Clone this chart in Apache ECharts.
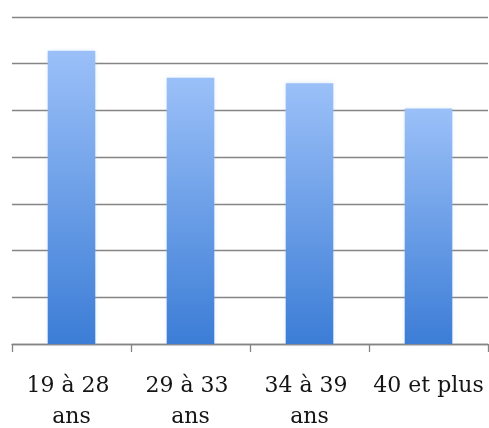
<!DOCTYPE html>
<html>
<head>
<meta charset="utf-8">
<script src="https://cdn.jsdelivr.net/npm/echarts@6/dist/echarts.min.js"></script>
<style>
  html, body { margin: 0; padding: 0; background: #ffffff; }
  #chart { width: 489px; height: 428px; }
</style>
</head>
<body>
<div id="chart"></div>
<script>
// Age groups and their values
const categories = ['19 à 28 ans', '29 à 33 ans', '34 à 39 ans', '40 et plus'];
const values = [31.4, 28.5, 27.9, 25.2];

// Value axis range (labels hidden, only gridlines drawn)
const yMin = 0;
const yMax = 35;
const yStep = 5;

const chart = echarts.init(document.getElementById('chart'), null, { renderer: 'canvas' });

chart.setOption({
  animation: false,
  backgroundColor: '#ffffff',
  grid: { left: 12, right: 1, top: 17, bottom: 84, containLabel: false, outerBoundsMode: 'none' },
  xAxis: {
    type: 'category',
    data: categories,
    boundaryGap: true,
    axisLine: { show: true, lineStyle: { color: '#858585', width: 1.3 } },
    axisTick: { show: true, length: 8, lineStyle: { color: '#858585', width: 1.3 } },
    axisLabel: {
      interval: 0,
      margin: 27,
      width: 118,
      overflow: 'break',
      color: '#151515',
      fontFamily: 'DejaVu Serif',
      fontSize: 22,
      lineHeight: 31,
      align: 'center'
    }
  },
  yAxis: {
    type: 'value',
    min: yMin,
    max: yMax,
    interval: yStep,
    axisLine: { show: false },
    axisTick: { show: false },
    axisLabel: { show: false },
    splitLine: { show: true, lineStyle: { color: '#858585', width: 1.3 } }
  },
  series: [{
    type: 'bar',
    data: values,
    barCategoryGap: '60%',
    itemStyle: {
      color: new echarts.graphic.LinearGradient(0, 0, 0, 1, [
        { offset: 0, color: '#9bc0f8' },
        { offset: 1, color: '#3c7dd6' }
      ]),
      shadowBlur: 5,
      shadowColor: 'rgba(150, 185, 235, 0.35)'
    }
  }]
});
</script>
</body>
</html>
